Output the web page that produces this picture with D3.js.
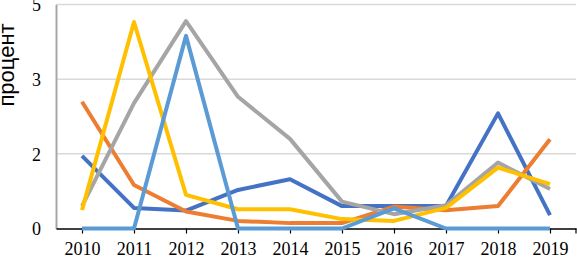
<!DOCTYPE html>
<html>
<head>
<meta charset="utf-8">
<script src="https://cdn.jsdelivr.net/npm/d3@7"></script>
<style>
  body { margin: 0; background: #fff; }
  svg { display: block; }
</style>
</head>
<body>
<svg width="577" height="258"></svg>
<script>
// data
const years = [2010, 2011, 2012, 2013, 2014, 2015, 2016, 2017, 2018, 2019];
const series1 = [1.62, 0.46, 0.40, 0.86, 1.10, 0.50, 0.50, 0.50, 2.57, 0.30];
const series2 = [2.83, 0.97, 0.38, 0.17, 0.12, 0.12, 0.49, 0.41, 0.50, 1.99];
const series3 = [0.50, 2.80, 4.63, 2.94, 2.00, 0.60, 0.32, 0.52, 1.47, 0.88];
const series4 = [0.41, 4.61, 0.75, 0.43, 0.43, 0.21, 0.17, 0.46, 1.36, 0.99];
const series5 = [0.00, 0.00, 4.30, 0.00, 0.00, 0.00, 0.45, 0.00, 0.00, 0.00];
const yTicks = [0, 5 / 3, 10 / 3, 5];
const yLabel = "процент";

const colors = ["#4472C4", "#ED7D31", "#A5A5A5", "#FFC000", "#5B9BD5"];
const allSeries = [series1, series2, series3, series4, series5];

const svg = d3.select("svg");
const margin = { left: 56, right: 1, top: 4.5, bottom: 29.5 };
const width = 577 - margin.left - margin.right;
const height = 258 - margin.top - margin.bottom;

const g = svg.append("g")
  .attr("transform", "translate(" + margin.left + "," + margin.top + ")");

const x = d3.scalePoint().domain(years).range([0, width]).padding(0.5);
const y = d3.scaleLinear().domain([0, 5]).range([height, 0]);

// gridlines
g.append("g")
  .selectAll("line")
  .data(yTicks.filter((d) => d > 0))
  .enter()
  .append("line")
  .attr("x1", 0)
  .attr("x2", width)
  .attr("y1", (d) => y(d))
  .attr("y2", (d) => y(d))
  .attr("stroke", "#d9d9d9")
  .attr("stroke-width", 1.5);

// y axis
const yAxis = g.append("g")
  .call(d3.axisLeft(y).tickValues(yTicks).tickFormat(d3.format(".0f")).tickSize(0).tickPadding(15));
yAxis.select(".domain").attr("stroke", "#a6a6a6").attr("stroke-width", 2);
yAxis.selectAll("text")
  .attr("font-family", "Liberation Serif, serif")
  .attr("font-size", 18)
  .attr("fill", "#000")
  .attr("dy", "0.35em");

// x axis
const xAxis = g.append("g")
  .attr("transform", "translate(0," + height + ")")
  .call(d3.axisBottom(x).tickSize(5).tickSizeOuter(0).tickPadding(9));
xAxis.select(".domain").attr("stroke", "#000").attr("stroke-width", 1.5);
xAxis.selectAll(".tick line").attr("stroke", "#000").attr("stroke-width", 1.2);
xAxis.append("line")
  .attr("x1", width).attr("x2", width)
  .attr("y1", 0).attr("y2", 5)
  .attr("stroke", "#000").attr("stroke-width", 1.2);
xAxis.selectAll("text")
  .attr("font-family", "Liberation Serif, serif")
  .attr("font-size", 18)
  .attr("fill", "#000");

// lines
const line = d3.line()
  .x((d, i) => x(years[i]))
  .y((d) => y(d));

allSeries.forEach(function (s, i) {
  g.append("path")
    .datum(s)
    .attr("fill", "none")
    .attr("stroke", colors[i])
    .attr("stroke-width", 4)
    .attr("stroke-linejoin", "round")
    .attr("d", line);
});

// y label
svg.append("text")
  .attr("transform", "translate(14,65) rotate(-90)")
  .attr("text-anchor", "middle")
  .attr("font-family", "Liberation Sans, Arial, sans-serif")
  .attr("font-size", 22)
  .attr("fill", "#000")
  .text(yLabel);
</script>
</body>
</html>
